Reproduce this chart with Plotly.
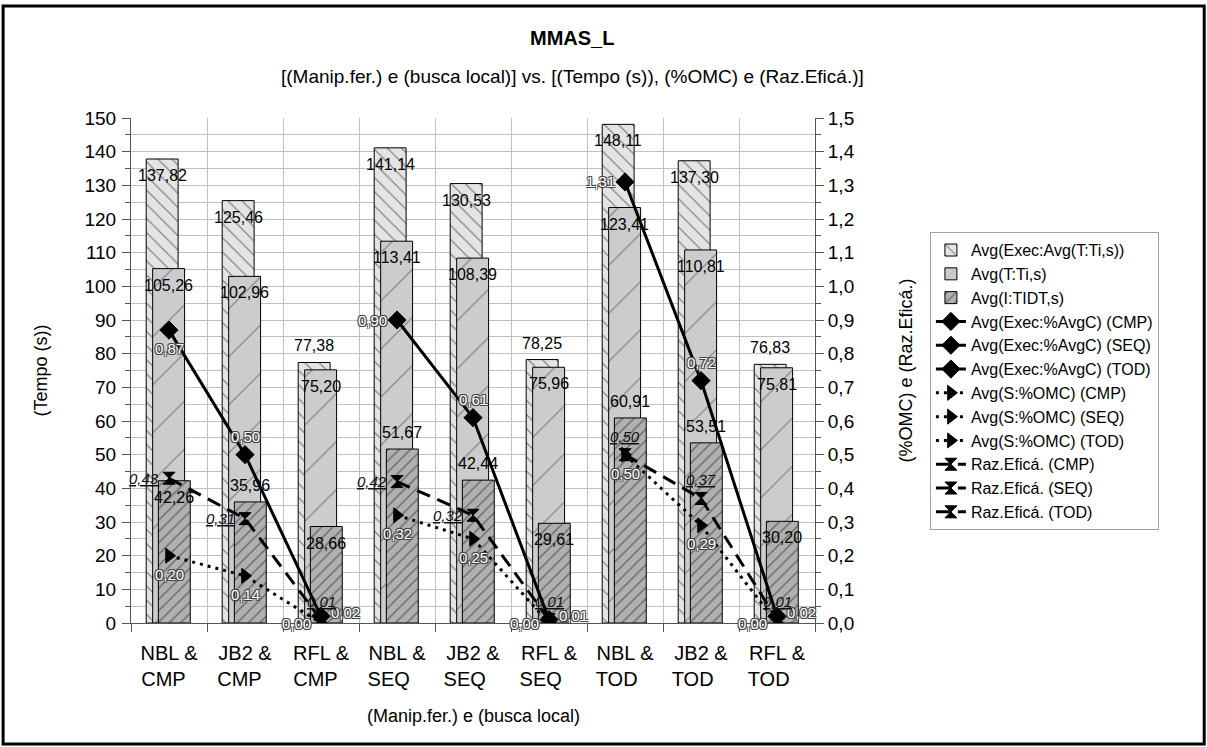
import plotly.graph_objects as go

# ---- data ---------------------------------------------------------------
manip = ["NBL &", "JB2 &", "RFL &", "NBL &", "JB2 &", "RFL &", "NBL &", "JB2 &", "RFL &"]
busca = ["CMP", "CMP", "CMP", "SEQ", "SEQ", "SEQ", "TOD", "TOD", "TOD"]

exec_avg_t = [137.82, 125.46, 77.38, 141.14, 130.53, 78.25, 148.11, 137.30, 76.83]
avg_t_ti = [105.26, 102.96, 75.20, 113.41, 108.39, 75.96, 123.41, 110.81, 75.81]
avg_i_tidt = [42.26, 35.96, 28.66, 51.67, 42.44, 29.61, 60.91, 53.51, 30.20]

groups = ["CMP", "SEQ", "TOD"]
exec_avgc = {"CMP": [0.87, 0.50, 0.02], "SEQ": [0.90, 0.61, 0.01], "TOD": [1.31, 0.72, 0.02]}
s_omc = {"CMP": [0.20, 0.14, 0.00], "SEQ": [0.32, 0.25, 0.00], "TOD": [0.50, 0.29, 0.00]}
raz_efica = {"CMP": [0.43, 0.31, 0.01], "SEQ": [0.42, 0.32, 0.01], "TOD": [0.50, 0.37, 0.01]}

# label placement for the value labels
exec_t_lbl = ["in", "in", "out", "in", "in", "out", "in", "in", "out"]
t_ti_lbl = ["in"] * 9
i_tidt_lbl = ["in", "out", "in", "out", "out", "in", "out", "out", "in"]
exec_avgc_lbl = {"CMP": "btr", "SEQ": "ltr", "TOD": "ltr"}
s_omc_lbl = {"CMP": "bbl", "SEQ": "bbl", "TOD": "bbl"}
raz_lbl = {"CMP": "llt", "SEQ": "llt", "TOD": "ttt"}

FONT = "Liberation Sans, Arial, sans-serif"
NB = "\u00a0"


def fmt(v, nd=2):
    return f"{v:.{nd}f}".replace(".", ",")


def tick_text(a, b):
    pad = 2 if b == "CMP" else 3
    return f"{a}<br>{b}{NB * pad}"


xs = list(range(len(manip)))
fig = go.Figure()

# ---- overlapping bars --------------------------------------------------
BW = 0.42
bar_specs = [
    ("Avg(Exec:Avg(T:Ti,s))", exec_avg_t, -0.30, "#e4e4e4", "\\", 10, 0.12),
    ("Avg(T:Ti,s)", avg_t_ti, -0.215, "#cccccc", "/", 34, 0.03),
    ("Avg(I:TIDT,s)", avg_i_tidt, -0.14, "#b0b0b0", "/", 8, 0.18),
]
for name, vals, off, col, shape, size, sol in bar_specs:
    fig.add_trace(go.Bar(
        x=xs, y=vals, name=name, width=BW, offset=off,
        marker=dict(color=col, line=dict(color="#000000", width=1),
                    pattern=dict(shape=shape, fgcolor="#222222", bgcolor=col,
                                 size=size, solidity=sol, fillmode="overlay")),
        yaxis="y",
    ))

# ---- lines on the secondary axis ---------------------------------------
line_specs = [
    ("Avg(Exec:%AvgC)", exec_avgc, "solid", "diamond", 14),
    ("Avg(S:%OMC)", s_omc, "3px,5px", "triangle-right", 13),
    ("Raz.Eficá.", raz_efica, "14px,8px", "hourglass", 12),
]
for name, data, dash, sym, msize in line_specs:
    for gi, g in enumerate(groups):
        fig.add_trace(go.Scatter(
            x=[gi * 3 + k for k in range(3)], y=data[g], yaxis="y2",
            name=f"{name} ({g})", mode="lines+markers",
            line=dict(color="#000000", width=3, dash=dash),
            marker=dict(symbol=sym, size=msize, color="#000000",
                        line=dict(color="#000000", width=1)),
        ))

# ---- value labels ------------------------------------------------------
annotations = []
for (name, vals, off, *_), where in zip(bar_specs, [exec_t_lbl, t_ti_lbl, i_tidt_lbl]):
    for i, v in enumerate(vals):
        inside = where[i] == "in"
        annotations.append(dict(
            x=i + off + BW / 2, y=v, xref="x", yref="y", text=fmt(v),
            showarrow=False, yanchor="top" if inside else "bottom",
            yshift=-6 if inside else 6,
            font=dict(family=FONT, size=16, color="#000000"),
        ))

white_font = dict(family=FONT, size=15, color="#ffffff",
                  shadow="1px 1px 0 #444, -1px -1px 0 #444, 1px -1px 0 #444, -1px 1px 0 #444")
raz_font = dict(family=FONT, size=15, color="#111111", style="italic", lineposition="under")

for name, data, *_ in line_specs:
    pos_map = {"Avg(Exec:%AvgC)": exec_avgc_lbl, "Avg(S:%OMC)": s_omc_lbl,
               "Raz.Eficá.": raz_lbl}[name]
    font = raz_font if name == "Raz.Eficá." else white_font
    for gi, g in enumerate(groups):
        for k, v in enumerate(data[g]):
            p = pos_map[g][k]
            a = dict(x=gi * 3 + k, y=v, xref="x", yref="y2", text=fmt(v),
                     showarrow=False, font=font)
            if p == "t":
                a.update(yanchor="bottom", yshift=8)
            elif p == "b":
                a.update(yanchor="top", yshift=-8)
            elif p == "l":
                a.update(xanchor="right", xshift=-8)
            else:
                a.update(xanchor="left", xshift=8, yshift=4)
            annotations.append(a)

# ---- titles ------------------------------------------------------------
title_kw = dict(xref="paper", yref="paper", showarrow=False,
                xanchor="center", yanchor="middle")
annotations += [
    dict(text="<b>MMAS_L</b>", x=0.645, y=1.158,
         font=dict(family=FONT, size=20, color="#000000"), **title_kw),
    dict(text="[(Manip.fer.) e (busca local)] vs. [(Tempo (s)), (%OMC) e (Raz.Eficá.)]",
         x=0.645, y=1.083, font=dict(family=FONT, size=19, color="#000000"), **title_kw),
    dict(text="(Tempo (s))", x=-0.133, y=0.5, textangle=-90,
         font=dict(family=FONT, size=18), **title_kw),
    dict(text="(%OMC) e (Raz.Eficá.)", x=1.1316, y=0.5, textangle=-90,
         font=dict(family=FONT, size=18), **title_kw),
    dict(text="(Manip.fer.) e (busca local)", x=0.5, y=-0.184,
         font=dict(family=FONT, size=18), **title_kw),
]

AX = "#555555"
GRID = "#c0c0c0"
fig.update_layout(
    width=1207, height=747, autosize=False,
    margin=dict(l=131, r=392, t=118, b=124),
    paper_bgcolor="#ffffff", plot_bgcolor="#ffffff",
    font=dict(family=FONT, color="#000000"),
    separators=",.",
    barmode="overlay",
    showlegend=True,
    legend=dict(x=1.168, y=0.774, xanchor="left", yanchor="top",
                bordercolor="#a0a0a0", borderwidth=1, bgcolor="#ffffff",
                font=dict(family=FONT, size=16), traceorder="normal",
                itemwidth=30),
    xaxis=dict(range=[-0.5, 8.5], tickmode="array", tickvals=xs,
               ticktext=[tick_text(a, b) for a, b in zip(manip, busca)],
               ticks="", showgrid=False, zeroline=False,
               showline=True, linecolor=AX, linewidth=1,
               tickfont=dict(family=FONT, size=20), ticklabelstandoff=12,
               minor=dict(tickmode="array", tickvals=[i - 0.5 for i in range(10)],
                          ticks="outside", ticklen=8, tickcolor=AX,
                          showgrid=True, gridcolor=GRID, gridwidth=1)),
    yaxis=dict(range=[0, 150], tick0=0, dtick=10, ticks="outside", ticklen=8,
               tickcolor=AX, showline=True, linecolor=AX, linewidth=1,
               showgrid=True, gridcolor=GRID, gridwidth=1, zeroline=False,
               tickfont=dict(family=FONT, size=19), ticklabelstandoff=2,
               minor=dict(dtick=5, ticks="outside", ticklen=5, tickcolor=AX,
                          showgrid=True, gridcolor=GRID, gridwidth=1)),
    yaxis2=dict(range=[0, 1.5], tick0=0, dtick=0.1, tickformat=".1f",
                overlaying="y", side="right", ticks="outside", ticklen=8,
                tickcolor=AX, showline=True, linecolor=AX, linewidth=1,
                showgrid=False, zeroline=False,
                tickfont=dict(family=FONT, size=19), ticklabelstandoff=0,
                minor=dict(dtick=0.05, ticks="outside", ticklen=5, tickcolor=AX)),
    annotations=annotations,
    shapes=[dict(type="rect", xref="paper", yref="paper",
                 x0=-0.187, x1=1.569, y0=-0.2396, y1=1.222,
                 line=dict(color="#000000", width=3), fillcolor="rgba(0,0,0,0)",
                 layer="above")],
)

fig.write_html("out.html")
